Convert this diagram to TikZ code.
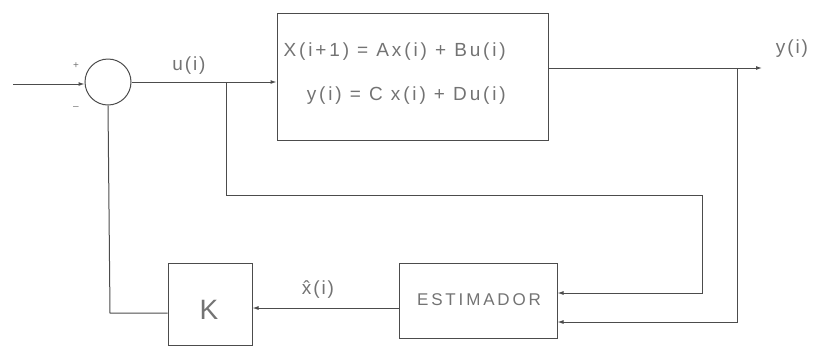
\documentclass[tikz,border=0pt]{standalone}
\usepackage{fontspec}
\setmainfont{Liberation Sans}
\newfontfamily\wide[LetterSpace=10]{Liberation Sans}
\newfontfamily\wider[LetterSpace=15]{Liberation Sans}
\usetikzlibrary{arrows.meta}
\begin{document}
\begin{tikzpicture}[x=1pt,y=-1pt,
  line/.style={draw=black!70, line width=1pt},
  arr/.style={line, -{Latex[length=6pt,width=4pt]}},
  block/.style={draw=black!70, line width=1pt, rectangle, inner sep=0pt},
  lbl/.style={text=black!55, inner sep=0pt, font=\wide\fontsize{19}{22}\selectfont},
  eqn/.style={lbl, anchor=east, font=\wider\fontsize{19}{22}\selectfont}]
  % canvas
  \useasboundingbox (0,0) rectangle (820,349);

  % blocks
  \node[draw=black!70, line width=1pt, circle, minimum size=46pt, inner sep=0pt] (sum) at (108,82) {};
  \node[block, minimum width=271pt, minimum height=127pt] (plant) at (412.5,76.5) {};
  \node[eqn] (eq1) at (506,52) {X(i+1) = Ax(i) + Bu(i)};
  \node[eqn] (eq2) at (506,96) {y(i) = C x(i) + Du(i)};
  \node[block, minimum width=158pt, minimum height=75pt] (est) at (478,300.5) {};
  \node[lbl, font=\wide\fontsize{17}{20}\selectfont] (estl) at (479,300) {E\,S\,T\,I\,M\,A\,D\,O\,R};
  \node[lbl, font=\fontsize{28}{32}\selectfont] (Kl) at (209,310) {K};
  \node[block, minimum width=84pt, minimum height=82pt] (K) at (210,304) {};

  % coordinates
  \coordinate (in) at (13,84);
  \coordinate (bu) at (226,82);
  \coordinate (bu1) at (226,195);
  \coordinate (bu2) at (702,195);
  \coordinate (bu3) at (702,293);
  \coordinate (yo) at (762,68);
  \coordinate (by) at (737,68);
  \coordinate (by1) at (737,322);
  \coordinate (kf) at (110,313);

  % forward path
  \draw[arr] (in) -- (sum.west |- in);
  \draw[arr] (sum.east) -- (plant.west |- sum.east);
  \draw[arr] (plant.east |- yo) -- (yo);

  % feedback through the estimator
  \draw[arr] (bu) -- (bu1) -- (bu2) -- (bu3) -- (est.east |- bu3);
  \draw[arr] (by) -- (by1) -- (est.east |- by1);
  \draw[arr] (est.west |- 0,308) -- (K.east |- 0,308);
  \draw[line] (K.west |- kf) -- (kf) -- (sum.south);

  % signal labels
  \node[lbl] (ul) at (189,66) {u(i)};
  \node[lbl] (yl) at (792,49) {y(i)};
  \node[lbl] (xl) at (318,290) {\^{x}(i)};
  \node[lbl, font=\fontsize{10}{12}\selectfont] (plus) at (76,66) {+};
  \node[lbl, font=\fontsize{10}{12}\selectfont] (minus) at (76,108) {--};
\end{tikzpicture}
\end{document}
